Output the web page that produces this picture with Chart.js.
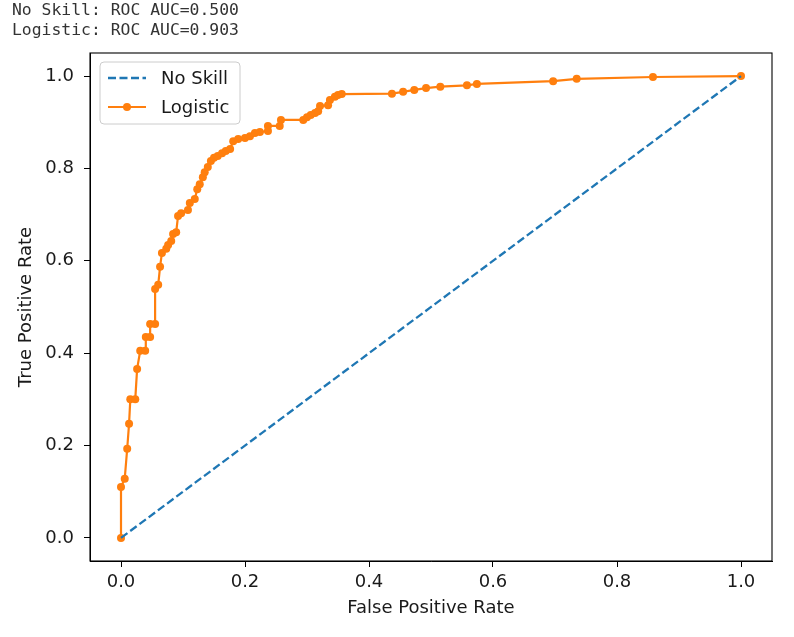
<!DOCTYPE html>
<html lang="en">
<head>
<meta charset="utf-8"/>
<title>ROC curve</title>
<style>
  body, html {
    margin: 0;
    padding: 0;
    background: #fff;
  }
  #wrap {
    position: relative;
    width: 794px;
    height: 637px;
  }
  #scores {
    position: absolute;
    left: 12px;
    top: 0;
    margin: 0;
    font-family: 'DejaVu Sans Mono', monospace;
    font-size: 16.4px;
    line-height: 20px;
    color: #333;
    white-space: pre;
  }
  canvas {
    position: absolute;
    left: 0;
    top: 0;
  }
</style>
</head>
<body>
<div id="wrap">
<canvas id="chart" width="794" height="637"></canvas>
<pre id="scores"></pre>
</div>
<script src="https://cdn.jsdelivr.net/npm/chart.js"></script>
<script>
  // scores printed above the plot
  const aucLines = ['No Skill: ROC AUC=0.500', 'Logistic: ROC AUC=0.903'];

  // no skill diagonal
  const fprNoSkill = [0, 1];
  const tprNoSkill = [0, 1];

  // logistic regression roc points
  const fprLogistic = [0, 0, 0.006, 0.01, 0.013, 0.015, 0.023, 0.026, 0.031, 0.039, 0.040, 0.047, 0.047, 0.055,
    0.055, 0.06, 0.063, 0.066, 0.073, 0.076, 0.081, 0.084, 0.089, 0.092, 0.097, 0.108, 0.111, 0.119,
    0.123, 0.127, 0.132, 0.135, 0.14, 0.145, 0.15, 0.156, 0.163, 0.169, 0.176, 0.181, 0.189, 0.2,
    0.208, 0.216, 0.224, 0.237, 0.237, 0.256, 0.258, 0.294, 0.3, 0.306, 0.313, 0.318, 0.321, 0.334,
    0.337, 0.345, 0.35, 0.356, 0.437, 0.455, 0.473, 0.492, 0.515, 0.558, 0.574, 0.697, 0.735, 0.858, 1];
  const tprLogistic = [0, 0.11, 0.128, 0.193, 0.247, 0.30, 0.30, 0.366, 0.405, 0.405, 0.435, 0.435, 0.463, 0.463,
    0.539, 0.548, 0.587, 0.617, 0.626, 0.634, 0.643, 0.658, 0.662, 0.697, 0.703, 0.71, 0.725, 0.734,
    0.755, 0.766, 0.781, 0.792, 0.803, 0.816, 0.823, 0.827, 0.833, 0.838, 0.842, 0.859, 0.864, 0.866,
    0.87, 0.877, 0.879, 0.881, 0.892, 0.892, 0.905, 0.905, 0.911, 0.916, 0.92, 0.924, 0.935, 0.937,
    0.948, 0.955, 0.959, 0.961, 0.962, 0.966, 0.970, 0.974, 0.977, 0.980, 0.983, 0.989, 0.994, 0.998, 1];

  const tickVals = [0, 0.2, 0.4, 0.6, 0.8, 1.0];

  document.getElementById('scores').textContent = aucLines.join('\n');

  const toPoints = (xs, ys) => xs.map((x, i) => ({x: x, y: ys[i]}));

  const blue = '#1f77b4';
  const orange = '#ff7f0e';
  const tickFont = {family: "'DejaVu Sans', sans-serif", size: 18};

  // frame round the plot (matplotlib keeps all four spines)
  const framePlugin = {
    id: 'frame',
    afterDraw(chart) {
      const a = chart.chartArea;
      const ctx = chart.ctx;
      ctx.save();
      ctx.strokeStyle = '#000';
      ctx.lineWidth = 1.1;
      ctx.strokeRect(a.left, a.top, a.right - a.left, a.bottom - a.top);
      ctx.restore();
    }
  };

  // legend box drawn inside the upper left corner
  const legendPlugin = {
    id: 'innerLegend',
    afterDraw(chart) {
      const ctx = chart.ctx;
      const a = chart.chartArea;
      const x0 = a.left + 10, y0 = a.top + 9, w = 140, h = 62;
      ctx.save();
      ctx.beginPath();
      ctx.roundRect(x0, y0, w, h, 4);
      ctx.fillStyle = 'rgba(255,255,255,0.8)';
      ctx.fill();
      ctx.strokeStyle = '#cccccc';
      ctx.lineWidth = 1;
      ctx.stroke();
      chart.data.datasets.forEach((ds, i) => {
        const y = y0 + 16 + i * 29;
        ctx.beginPath();
        ctx.setLineDash(ds.borderDash || []);
        ctx.strokeStyle = ds.borderColor;
        ctx.lineWidth = ds.borderWidth;
        ctx.moveTo(x0 + 8, y);
        ctx.lineTo(x0 + 46, y);
        ctx.stroke();
        ctx.setLineDash([]);
        if (ds.pointRadius > 0) {
          ctx.beginPath();
          ctx.arc(x0 + 27, y, ds.pointRadius, 0, Math.PI * 2);
          ctx.fillStyle = ds.pointBackgroundColor;
          ctx.fill();
        }
        ctx.fillStyle = '#1a1a1a';
        ctx.font = "18px 'DejaVu Sans', sans-serif";
        ctx.textBaseline = 'middle';
        ctx.fillText(ds.label, x0 + 61, y + 1);
      });
      ctx.restore();
    }
  };

  new Chart(document.getElementById('chart').getContext('2d'), {
    type: 'scatter',
    data: {
      datasets: [{
        label: 'No Skill',
        data: toPoints(fprNoSkill, tprNoSkill),
        showLine: true,
        borderColor: blue,
        backgroundColor: blue,
        borderWidth: 2.3,
        borderDash: [8, 3.5],
        pointRadius: 0,
        tension: 0
      }, {
        label: 'Logistic',
        data: toPoints(fprLogistic, tprLogistic),
        showLine: true,
        borderColor: orange,
        backgroundColor: orange,
        pointBackgroundColor: orange,
        borderWidth: 2.2,
        pointRadius: 4,
        pointBorderWidth: 0,
        tension: 0
      }]
    },
    options: {
      responsive: false,
      animation: false,
      layout: {padding: {left: 0, top: 53, right: 22, bottom: 0}},
      plugins: {
        legend: {display: false},
        tooltip: {enabled: false}
      },
      scales: {
        x: {
          type: 'linear',
          min: -0.05,
          max: 1.05,
          afterBuildTicks: s => { s.ticks = tickVals.map(v => ({value: v})); },
          afterFit: s => { s.height = 76; },
          grid: {drawOnChartArea: false, drawTicks: true, tickLength: 6, color: '#000'},
          border: {display: true, color: '#000'},
          ticks: {
            color: '#1a1a1a',
            font: tickFont,
            padding: 5,
            maxRotation: 0,
            callback: v => v.toFixed(1)
          },
          title: {
            display: true,
            text: 'False Positive Rate',
            color: '#1a1a1a',
            font: tickFont,
            padding: {top: 0, bottom: 18}
          }
        },
        y: {
          type: 'linear',
          min: -0.05,
          max: 1.05,
          afterBuildTicks: s => { s.ticks = tickVals.map(v => ({value: v})); },
          afterFit: s => { s.width = 90; },
          grid: {drawOnChartArea: false, drawTicks: true, tickLength: 6, color: '#000'},
          border: {display: true, color: '#000'},
          ticks: {
            color: '#1a1a1a',
            font: tickFont,
            padding: 10,
            callback: v => v.toFixed(1)
          },
          title: {
            display: true,
            text: 'True Positive Rate',
            color: '#1a1a1a',
            font: tickFont,
            padding: {top: 16, bottom: 0}
          }
        }
      }
    },
    plugins: [framePlugin, legendPlugin]
  });
</script>
</body>
</html>
